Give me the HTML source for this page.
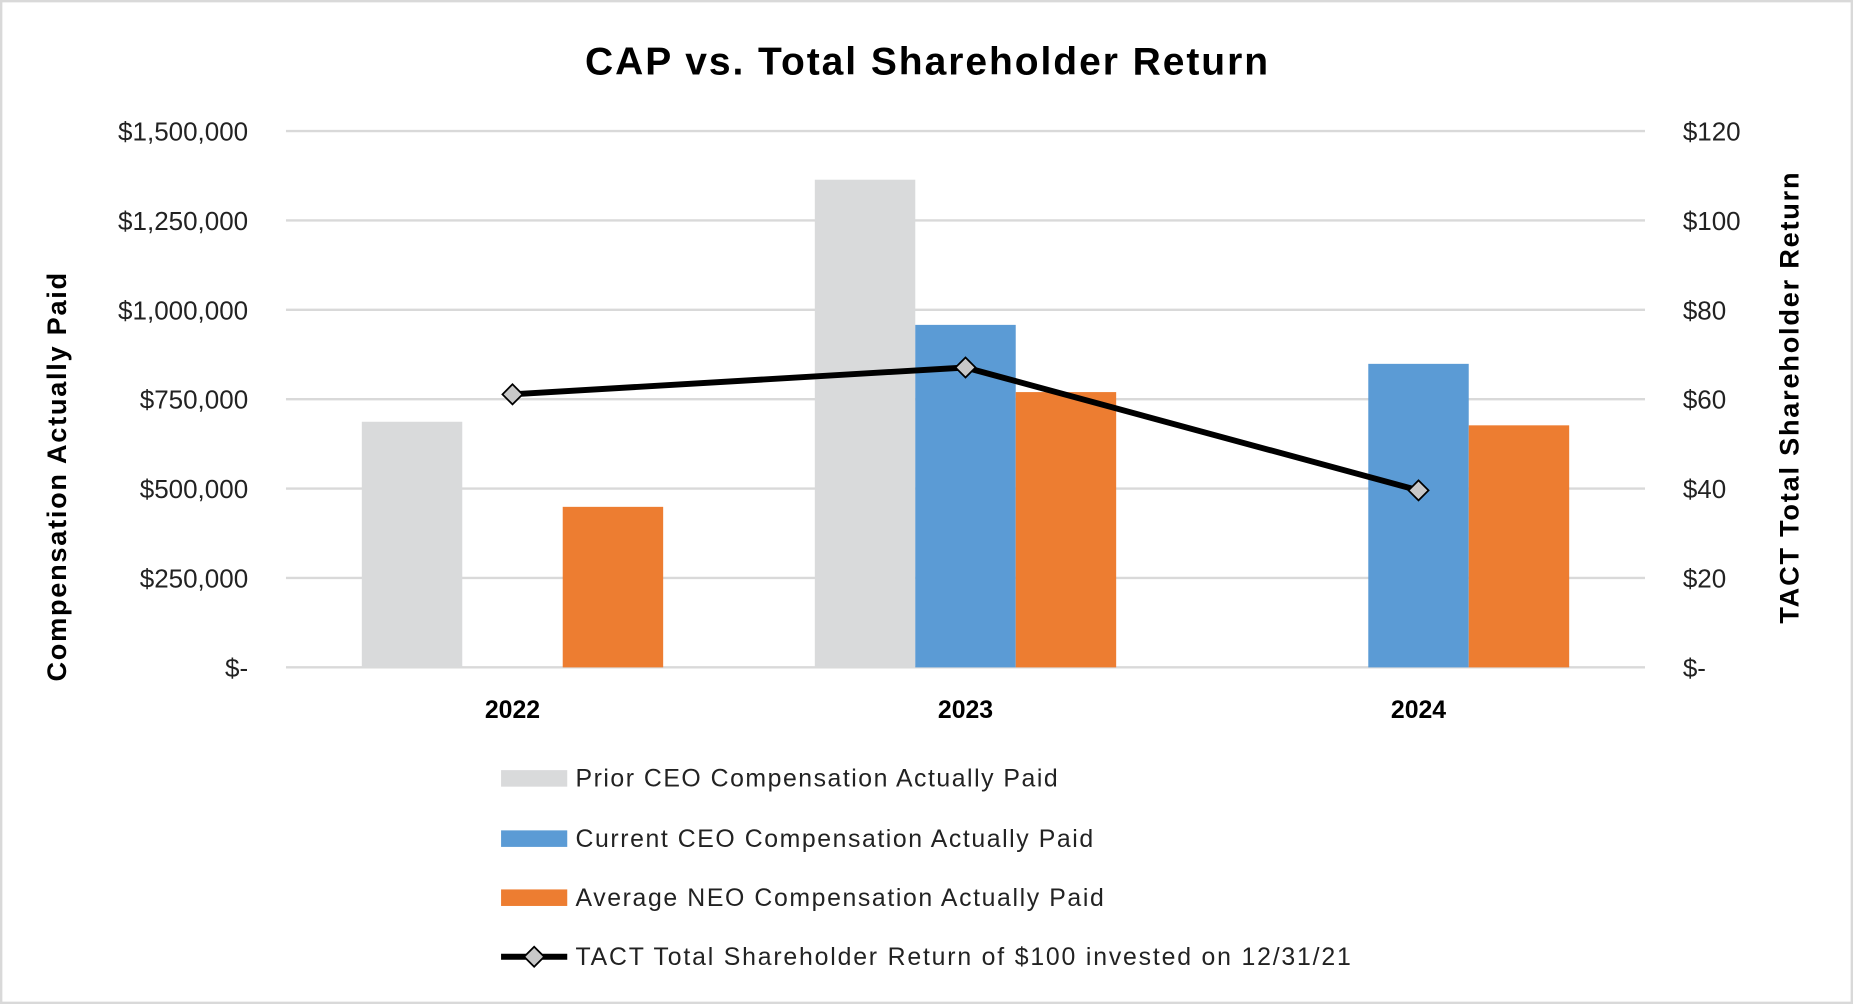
<!DOCTYPE html>
<html><head><meta charset="utf-8"><style>
html,body{margin:0;padding:0;background:#fff;}
svg{display:block;font-family:"Liberation Sans",sans-serif;}
</style></head><body>
<svg id="chart" width="1853" height="1004" viewBox="0 0 1568 850" preserveAspectRatio="none" xmlns="http://www.w3.org/2000/svg">
<rect x="1" y="1" width="1566" height="848" fill="#fff" stroke="#d9d9d9" stroke-width="2"/>
<text x="784" y="63" text-anchor="middle" font-size="33" font-weight="bold" fill="#000" textLength="578" lengthAdjust="spacing">CAP vs. Total Shareholder Return</text>
<g id="grid"></g><g id="bars"></g><g id="line"></g><g id="axes"></g>
<text transform="translate(56,404) rotate(-90)" text-anchor="middle" font-size="23" font-weight="bold" textLength="346" lengthAdjust="spacing">Compensation Actually Paid</text>
<text transform="translate(1522,337) rotate(-90)" text-anchor="middle" font-size="23" font-weight="bold" textLength="382" lengthAdjust="spacing">TACT Total Shareholder Return</text>
<g font-size="21" fill="#222">
<g><rect x="424" y="652" width="56" height="14" fill="#d9dadb"/><text x="487" y="666" textLength="408" lengthAdjust="spacing">Prior CEO Compensation Actually Paid</text></g>
<g><rect x="424" y="703" width="56" height="14" fill="#5b9bd5"/><text x="487" y="717" textLength="438" lengthAdjust="spacing">Current CEO Compensation Actually Paid</text></g>
<g><rect x="424" y="753" width="56" height="14" fill="#ed7d31"/><text x="487" y="767" textLength="447" lengthAdjust="spacing">Average NEO Compensation Actually Paid</text></g>
<g><line x1="424" y1="810" x2="480" y2="810" stroke="#000" stroke-width="5"/><rect x="446" y="804" width="12" height="12" transform="rotate(45 452 810)" fill="#c8c8c8" stroke="#000" stroke-width="1.5"/><text x="487" y="817" textLength="656" lengthAdjust="spacing">TACT Total Shareholder Return of $100 invested on 12/31/21</text></g>
</g>
</svg>
<script>
const categories=["2022","2023","2024"];
const priorCeo=[687000,1364000,null];
const currentCeo=[null,958000,849000];
const avgNeo=[449000,770000,677000];
const tsr=[61.1,67.1,39.6];
const leftTicks=["$-","$250,000","$500,000","$750,000","$1,000,000","$1,250,000","$1,500,000"];
const rightTicks=["$-","$20","$40","$60","$80","$100","$120"];
const NS="http://www.w3.org/2000/svg";
const L=242,R=1392,Y0=565,Y1=111;
const yL=v=>Y0-(v/1500000)*(Y0-Y1);
const yR=v=>Y0-(v/120)*(Y0-Y1);
const xC=i=>L+(R-L)/categories.length*(i+0.5);
const BW=85;
function mk(t,a,p){const e=document.createElementNS(NS,t);for(const k in a)e.setAttribute(k,a[k]);document.getElementById(p).appendChild(e);return e;}
leftTicks.forEach((t,i)=>{const y=Y0-i*(Y0-Y1)/(leftTicks.length-1);
 const g=mk("line",{x1:L,x2:R,y1:y,y2:y,stroke:"#d9d9d9","stroke-width":2},"grid");
 
 
 const a=mk("text",{x:210,y:y+8,"text-anchor":"end","font-size":22,fill:"#222"},"axes");a.textContent=t;
 
 
 const b=mk("text",{x:1424,y:y+8,"font-size":22,fill:"#222"},"axes");b.textContent=rightTicks[i];
 
 
});
categories.forEach((c,i)=>{const t=mk("text",{x:xC(i),y:608,"text-anchor":"middle","font-size":21,"font-weight":"bold"},"axes");t.textContent=c;
 
 
});
const series=[[priorCeo,"#d9dadb",-1,"bar-prior-ceo"],[currentCeo,"#5b9bd5",0,"bar-current-ceo"],[avgNeo,"#ed7d31",1,"bar-average-neo"]];
series.forEach(([vals,col,off,nm])=>vals.forEach((v,i)=>{if(v==null)return;
 const r=mk("rect",{x:xC(i)+off*BW-BW/2,y:yL(v),width:BW,height:Y0-yL(v),fill:col},"bars");
 
 
}));
const pl=mk("polyline",{points:tsr.map((v,i)=>xC(i)+","+yR(v)).join(" "),fill:"none",stroke:"#000","stroke-width":5,"stroke-linejoin":"round"},"line");


tsr.forEach((v,i)=>{const m=mk("rect",{x:xC(i)-6,y:yR(v)-6,width:12,height:12,transform:`rotate(45 ${xC(i)} ${yR(v)})`,fill:"#c8c8c8",stroke:"#000","stroke-width":1.5},"line");
 
 
});
</script>
</body></html>
